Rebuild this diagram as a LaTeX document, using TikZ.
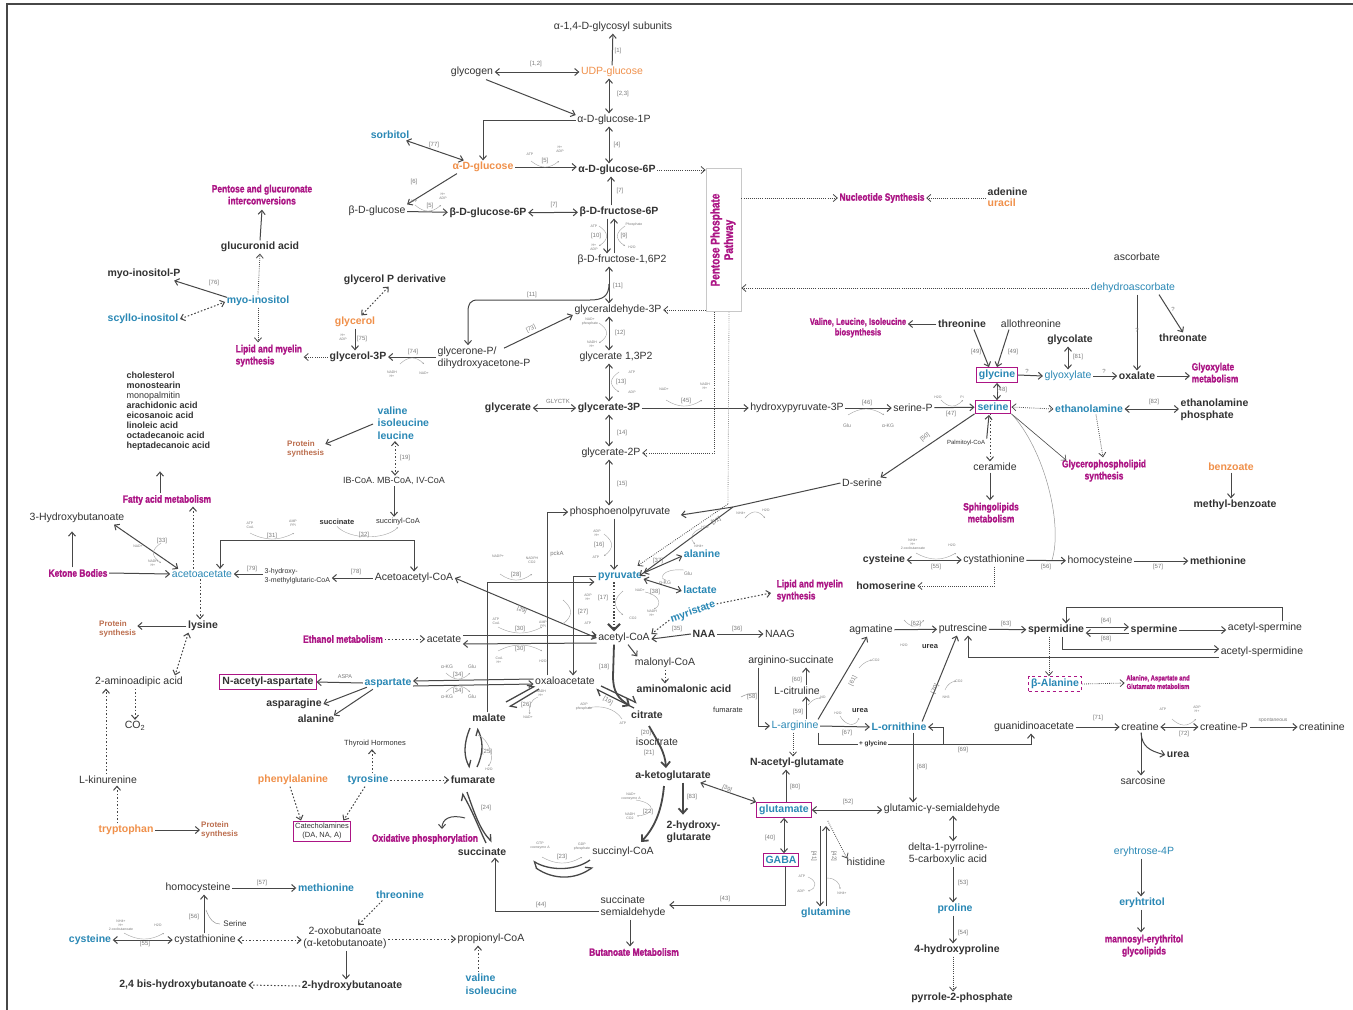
\documentclass[tikz,border=0pt]{standalone}
\usepackage{fontspec}
\usepackage{graphicx}
\setmainfont{Liberation Sans}
\newfontfamily\hvy[BoldFeatures={FakeBold=1.5}]{Liberation Sans}
\usetikzlibrary{arrows.meta,calc}
\definecolor{txt}{HTML}{333333}
\definecolor{lnc}{HTML}{474747}
\definecolor{blc}{HTML}{2A88B5}
\definecolor{orc}{HTML}{F0904A}
\definecolor{mgc}{HTML}{AC1585}
\definecolor{psc}{HTML}{BC6E4E}
\definecolor{grc}{HTML}{7A7A7A}
\definecolor{boxg}{HTML}{C8C8C8}
\newcommand{\mgt}[1]{\scalebox{0.8}[1]{\hvy\bfseries #1}}
\newcommand{\mgcc}[1]{\scalebox{0.8}[1]{\hvy\bfseries\begin{tabular}{@{}c@{}}#1\end{tabular}}}
\newcommand{\mgll}[1]{\scalebox{0.8}[1]{\hvy\bfseries\begin{tabular}{@{}l@{}}#1\end{tabular}}}
\newcommand{\arcup}[3]{\draw[cof] ({#1-#3},{#2-7}) .. controls ({#1-#3*0.3},{#2+1}) and ({#1+#3*0.3},{#2+1}) .. ({#1+#3},{#2-7});}
\newcommand{\arcdn}[3]{\draw[cof] ({#1-#3},{#2+7}) .. controls ({#1-#3*0.3},{#2-1}) and ({#1+#3*0.3},{#2-1}) .. ({#1+#3},{#2+7});}
\newcommand{\arcrt}[3]{\draw[cof] ({#1+9},{#2-#3}) .. controls ({#1-1},{#2-#3*0.3}) and ({#1-1},{#2+#3*0.3}) .. ({#1+9},{#2+#3});}
\newcommand{\arclt}[3]{\draw[cof] ({#1-9},{#2-#3}) .. controls ({#1+1},{#2-#3*0.3}) and ({#1+1},{#2+#3*0.3}) .. ({#1-9},{#2+#3});}
\tikzset{
 base/.style={inner sep=1.5pt, text=txt, font=\fontsize{10.5}{12.5}\selectfont},
 tx/.style={base},
 tb/.style={base, font=\fontsize{10.5}{12.5}\selectfont\bfseries},
 tbl/.style={tb, text=blc},
 tblb/.style={base, text=blc},
 tor/.style={tb, text=orc},
 tmg/.style={inner sep=1.5pt, text=mgc, font=\fontsize{10.5}{12}\selectfont},
 tps/.style={inner sep=1pt, text=psc, font=\fontsize{8}{9.5}\selectfont\bfseries, align=left, anchor=west},
 trn/.style={inner sep=0.5pt, text=grc, font=\fontsize{6}{7}\selectfont},
 tt/.style={inner sep=0pt, text=grc, font=\fontsize{3.5}{4}\selectfont, align=center},
 tsm/.style={base, font=\fontsize{7.5}{9}\selectfont},
 bx/.style={draw=mgc, line width=1pt, inner sep=2.5pt},
 ar/.style={draw=lnc, line width=1pt, -{Straight Barb[length=4pt,width=7pt]}},
 dar/.style={draw=lnc, line width=1pt, {Straight Barb[length=4pt,width=7pt]}-{Straight Barb[length=4pt,width=7pt]}},
 dta/.style={ar, line width=0.8pt, dash pattern=on 0.8pt off 1.3pt},
 ddt/.style={dar, line width=0.8pt, dash pattern=on 0.8pt off 1.3pt},
 dsa/.style={ar, dash pattern=on 1.6pt off 1.9pt},
 dsd/.style={dar, dash pattern=on 1.6pt off 1.9pt},
 tk/.style={draw=lnc, line width=1.8pt, -{Straight Barb[length=5pt,width=9pt]}},
 hp/.style={draw=lnc, line width=1.3pt, -{Straight Barb[harpoon,length=5pt,width=9pt]}},
 cof/.style={draw=grc!70, line width=0.4pt, -{Stealth[length=1.6pt,width=1.6pt]}},
 thn/.style={draw=grc!80, line width=0.5pt},
}
\begin{document}
\begin{tikzpicture}[x=1pt,y=-1pt]
\useasboundingbox (0,0) rectangle (1353,1010);
\fill[white] (0,0) rectangle (1353,1010);
\draw[lnc, line width=1.2pt] (7,1012) -- (7,4) -- (1356,4);

% ---------- helper coordinates
\coordinate (sp) at (609,0);
\coordinate (sp2) at (611,0);
\coordinate (spa) at (607,0);
\coordinate (spb) at (614,0);
\coordinate (x468) at (468,0);
\coordinate (p1) at (714,0);
\coordinate (p2) at (729,0);

% ---------- glycogen / glucose
\node[tx] (glysub) at (613,27) {α-1,4-D-glycosyl subunits};
\node[tx] (glycogen) at (472,72) {glycogen};
\node[tx, text=orc] (udpg) at (612,72) {UDP-glucose};
\node[tx] (g1p) at (614,120) {α-D-glucose-1P};
\node[tbl] (sorbitol) at (390,135) {sorbitol};
\node[tor] (adg) at (483,167) {α-D-glucose};
\node[tb] (ag6p) at (617,170) {α-D-glucose-6P};
\node[tx] (bdg) at (377,211) {β-D-glucose};
\node[tb] (bg6p) at (488,213) {β-D-glucose-6P};
\node[tb] (bf6p) at (619,212) {β-D-fructose-6P};
\node[tx] (f16) at (622,260) {β-D-fructose-1,6P2};
\node[tx] (gap) at (618,310) {glyceraldehyde-3P};
\node[tb] (gpd) at (395,280) {glycerol P derivative};
\node[tor] (glycerol) at (355,322) {glycerol};
\node[tb] (g3p) at (358,357) {glycerol-3P};
\node[tx, align=left, anchor=west] (dhap) at (436,358) {glycerone-P/\\dihydroxyacetone-P};
\node[tx] (g13) at (616,357) {glycerate 1,3P2};
\node[tb] (glycerate) at (508,408) {glycerate};
\node[tb] (g3) at (609,408) {glycerate-3P};
\node[tx] (g2) at (611,453) {glycerate-2P};
\node[tx] (pep) at (620,512) {phosphoenolpyruvate};
\node[tbl] (pyr) at (620,576) {pyruvate};
\node[tx] (acoa) at (624,638) {acetyl-CoA};

% pentose phosphate box
\node[draw=boxg, line width=0.8pt, minimum width=35pt, minimum height=143pt, inner sep=0pt] (ppp) at (723.5,240) {};
\node[rotate=90, text=mgc, font=\fontsize{12.5}{13.5}\selectfont] at (ppp) {\mgcc{Pentose Phosphate\\Pathway}};

% ---------- right top
\node[tmg] (nucl) at (882,198) {\mgt{Nucleotide Synthesis}};
\node[tb, anchor=west] (adenine) at (986,192) {adenine};
\node[tor, anchor=west] (uracil) at (986,203) {uracil};
\node[tx] (ascorbate) at (1137,257) {ascorbate};
\node[tblb] (dha) at (1133,288) {dehydroascorbate};
\node[tb] (threonate) at (1183,338) {threonate};

\node[tmg, font=\fontsize{9.5}{10.5}\selectfont] (vli) at (858,328) {\mgcc{Valine, Leucine, Isoleucine\\biosynthesis}};
\node[tb] (thr) at (962,324) {threonine};
\node[tx] (allothr) at (1031,324) {allothreonine};
\node[tbl, bx] (gly) at (997,375) {glycine};
\node[tbl, bx] (ser) at (993,407) {serine};
\node[tb] (glycolate) at (1070,340) {glycolate};
\node[tblb] (glyox) at (1068,376) {glyoxylate};
\node[tb] (oxalate) at (1137,376) {oxalate};
\node[tmg, anchor=west] (glyoxmet) at (1190,374) {\mgll{Glyoxylate\\metabolism}};
\node[tbl] (ethan) at (1089,409) {ethanolamine};
\node[tb, align=left, anchor=west] (ethp) at (1179,410) {ethanolamine\\phosphate};
\node[tmg] (gpl) at (1104,471) {\mgcc{Glycerophospholipid\\synthesis}};
\node[tor] (benzoate) at (1231,467) {benzoate};
\node[tb] (mbenz) at (1235,505) {methyl-benzoate};

\node[tx] (hp3) at (797,408) {hydroxypyruvate-3P};
\node[tx] (serp) at (913,408) {serine-P};
\node[tx] (dser) at (862,483) {D-serine};
\node[base, font=\fontsize{6}{7}\selectfont] (palm) at (966,443) {Palmitoyl-CoA};
\node[tx] (ceramide) at (995,467) {ceramide};
\node[tmg] (sphingo) at (991,514) {\mgcc{Sphingolipids\\metabolism}};
\node[tb] (cys1) at (884,560) {cysteine};
\node[tx] (cysta1) at (994,560) {cystathionine};
\node[tb] (homoser) at (886,586) {homoserine};
\node[tx] (hcy1) at (1100,561) {homocysteine};
\node[tb] (met1) at (1218,561) {methionine};

% ---------- left top
\node[tmg] (pgi) at (262,196) {\mgcc{Pentose and glucuronate\\interconversions}};
\node[tb] (gluc) at (260,247) {glucuronid acid};
\node[tb] (mip) at (144,274) {myo-inositol-P};
\node[tbl] (myo) at (258,301) {myo-inositol};
\node[tbl] (scyllo) at (143,319) {scyllo-inositol};
\node[tmg, anchor=west] (lipid1) at (234,356) {\mgll{Lipid and myelin\\synthesis}};
\node[tb, align=left, anchor=west, font=\fontsize{9}{10}\selectfont\bfseries] (fa) at (125,411) {cholesterol\\monostearin\\{\mdseries monopalmitin}\\arachidonic acid\\eicosanoic acid\\linoleic acid\\octadecanoic acid\\heptadecanoic acid};
\node[tmg] (fam) at (167,500) {\mgt{Fatty acid metabolism}};
\node[tx] (hb) at (77,518) {3-Hydroxybutanoate};
\node[tmg] (kb) at (78,573) {\mgt{Ketone Bodies}};
\node[tblb] (acac) at (202,574) {acetoacetate};
\node[base, align=left, anchor=west, font=\fontsize{7}{8.5}\selectfont] (hmg) at (263,576) {3-hydroxy-\\3-methylglutaric-CoA};
\node[tx] (acac2) at (414,578) {Acetoacetyl-CoA};
\node[tbl, align=left, anchor=west] (vil) at (376,423) {valine\\isoleucine\\leucine};
\node[tps] (ps1) at (286,449) {Protein\\synthesis};
\node[base, font=\fontsize{9}{10}\selectfont] (ibcoa) at (394,481) {IB-CoA. MB-CoA, IV-CoA};
\node[base, font=\fontsize{7.5}{9}\selectfont\bfseries] (succ2) at (337,522) {succinate};
\node[base, font=\fontsize{7.5}{9}\selectfont] (succoa2) at (398,522) {succinyl-CoA};
\node[tmg] (ethmet) at (343,639) {\mgt{Ethanol metabolism}};
\node[tx] (acetate) at (444,639) {acetate};
\node[tb] (lys) at (203,626) {lysine};
\node[tps] (ps2) at (98,629) {Protein\\synthesis};
\node[tx] (aaa) at (139,682) {2-aminoadipic acid};
\node[tx] (co2) at (135,726) {CO\textsubscript{2}};
\node[tx] (lkyn) at (108,780) {L-kinurenine};
\node[tor] (trp) at (126,830) {tryptophan};
\node[tps] (ps3) at (200,830) {Protein\\synthesis};

% ---------- aspartate / TCA
\node[tbl] (asp) at (388,683) {aspartate};
\node[tb, bx] (naasp) at (268,682) {N-acetyl-aspartate};
\node[tb] (asn) at (294,704) {asparagine};
\node[tb] (ala2) at (316,719) {alanine};
\node[tsm] (thy) at (375,744) {Thyroid Hormones};
\node[tbl] (tyr) at (368,780) {tyrosine};
\node[tor] (phe) at (293,780) {phenylalanine};
\node[bx, base, align=center, font=\fontsize{7.5}{9}\selectfont, inner sep=2pt] (cat) at (322,831) {Catecholamines\\(DA, NA, A)};

\node[tbl] (ala1) at (702,554) {alanine};
\node[tbl] (lac) at (700,590) {lactate};
\node[tbl, rotate=19] (myr) at (693,612) {myristate};
\node[tmg, anchor=west] (lipid2) at (775,591) {\mgll{Lipid and myelin\\synthesis}};
\node[tb] (naa) at (704,634) {NAA};
\node[tx] (naag) at (780,634) {NAAG};
\node[tx] (malcoa) at (665,663) {malonyl-CoA};
\node[tb] (amal) at (684,689) {aminomalonic acid};

\node[tx] (oaa) at (565,681) {oxaloacetate};
\node[tb] (malate) at (489,718) {malate};
\node[tb] (citrate) at (647,715) {citrate};
\node[tx] (isocit) at (657,742) {isocitrate};
\node[tb] (akg) at (673,776) {a-ketoglutarate};
\node[tb, align=left, anchor=west] (hg) at (665,832) {2-hydroxy-\\glutarate};
\node[tx] (succoa) at (623,852) {succinyl-CoA};
\node[tb] (succ) at (482,852) {succinate};
\node[tb] (fum) at (473,780) {fumarate};
\node[tmg] (oxphos) at (425,839) {\mgt{Oxidative phosphorylation}};
\node[tx, align=left, anchor=west] (ssa) at (599,907) {succinate\\semialdehyde};
\node[tmg] (butmet) at (634,952) {\mgt{Butanoate Metabolism}};

% ---------- bottom left
\node[tx] (hcy2) at (198,888) {homocysteine};
\node[tbl] (met2) at (326,888) {methionine};
\node[tbl] (cys2) at (90,940) {cysteine};
\node[tx] (cysta2) at (205,940) {cystathionine};
\node[tx, align=center] (oxob) at (345,938) {2-oxobutanoate\\(α-ketobutanoate)};
\node[tbl] (thr2) at (400,895) {threonine};
\node[tx] (propcoa) at (491,939) {propionyl-CoA};
\node[tbl, align=left, anchor=west] (vi2) at (464,984) {valine\\isoleucine};
\node[tb] (hbut) at (352,986) {2-hydroxybutanoate};
\node[tb] (bishb) at (183,985) {2,4 bis-hydroxybutanoate};

% ---------- glutamate / urea
\node[tbl, bx] (glu) at (784,810) {glutamate};
\node[tbl, bx] (gaba) at (781,860) {GABA};
\node[tb] (nag) at (797,763) {N-acetyl-glutamate};
\node[tbl] (gln) at (826,913) {glutamine};
\node[tx] (his) at (866,862) {histidine};
\node[tx] (gsa) at (942,809) {glutamic-γ-semialdehyde};
\node[tx, align=center] (p5c) at (948,854) {delta-1-pyrroline-\\5-carboxylic acid};
\node[tbl] (pro) at (955,909) {proline};
\node[tb] (hyp) at (957,950) {4-hydroxyproline};
\node[tb] (p2p) at (962,998) {pyrrole-2-phosphate};

\node[tx] (argsuc) at (791,661) {arginino-succinate};
\node[tx] (cit) at (797,691) {L-citruline};
\node[tblb] (arg) at (795,726) {L-arginine};
\node[tbl] (orn) at (899,727) {L-ornithine};
\node[tx] (agm) at (871,630) {agmatine};
\node[tx] (put) at (963,629) {putrescine};
\node[tb] (spd) at (1056,630) {spermidine};
\node[tb] (spm) at (1154,630) {spermine};
\node[tx] (acspm) at (1265,628) {acetyl-spermine};
\node[tx] (acspd) at (1262,652) {acetyl-spermidine};
\node[tbl, draw=mgc, line width=1pt, dashed, inner sep=2.5pt] (bala) at (1055,684) {β-Alanine};
\node[tmg, font=\fontsize{7.3}{8.5}\selectfont] (aagm) at (1158,683) {\mgcc{Alanine, Aspartate and\\Glutamate metabolism}};
\node[tx] (guan) at (1034,727) {guanidinoacetate};
\node[tx] (crt) at (1140,727) {creatine};
\node[tx] (crtp) at (1224,727) {creatine-P};
\node[tx] (crtn) at (1322,727) {creatinine};
\node[tb] (urea3) at (1178,755) {urea};
\node[tx] (sarc) at (1143,781) {sarcosine};
\node[tblb] (e4p) at (1144,852) {eryhtrose-4P};
\node[tbl] (eryt) at (1142,903) {eryhtritol};
\node[tmg] (mel) at (1144,946) {\mgcc{mannosyl-erythritol\\glycolipids}};

% ================= CONNECTORS =================
% glycogen part
\draw[ar] (udpg) -- (glysub);
\draw[dar] (glycogen) -- (udpg);
\draw[dar] (udpg.south -| sp) -- (g1p.north -| sp);
\draw[ar] ($(glycogen.south)+(14,1)$) -- ($(g1p.west)+(0,-5)$);
\draw[ar] (g1p.west) -| (adg.north);
\draw[dar] (sorbitol) -- (adg);
\draw[ar] (adg.east) -- (adg.east -| ag6p.west);
\draw[dar] (g1p.south -| sp) -- (ag6p.north -| sp);
\draw[dta] (ag6p.east) -- (ag6p.east -| ppp.west);
\draw[ar] ($(adg.south west)+(6,0)$) -- (bdg.north east);
\draw[ar] (bdg) -- (bg6p);
\draw[dar] (bg6p) -- (bf6p);
\draw[ar] (bf6p.north -| sp2) -- (ag6p.south -| sp2);
\draw[ar] (bf6p.south -| spa) -- (f16.north -| spa);
\draw[ar] (f16.north -| spb) -- (bf6p.south -| spb);
\draw[dar] (f16.south -| sp) -- (gap.north -| sp);
\coordinate (j11) at (609,284);
\draw[ar] (j11) .. controls (609,296) and (603,300) .. (590,300) -- (478,300) .. controls (470,300) and (468,304) .. (468,312) -- (dhap.north -| x468);
\draw[dta] (ppp.west |- gap.east) -- (gap.east);
\draw[dsd] (gpd) -- (glycerol);
\draw[ar] (glycerol.south) -- (glycerol.south |- g3p.north);
\draw[ar] (dhap.west |- g3p) -- (g3p.east);
\draw[ar] ($(dhap.north west)+(68,3)$) -- ($(gap.west)+(0,5)$);

% glycolysis
\draw[dar] (gap.south -| sp) -- (g13.north -| sp);
\draw[dar] (g13.south -| sp) -- (g3.north -| sp);
\draw[dar] (glycerate) -- (g3);
\draw[ar] (g3) -- (hp3);
\draw[dar] (g3.south -| sp) -- (g2.north -| sp);
\draw[dar] (g2.south -| sp) -- (pep.north -| sp);
\draw[ar] (pep.south -| spb) -- (pyr.north -| spb);
\draw[draw=lnc, line width=2.2pt, dash pattern=on 1.6pt off 1.6pt, -{Straight Barb[length=6pt,width=12pt]}] (pyr.south -| spb) -- (acoa.north -| spb);

% pentose box connections
\draw[dta] (ppp.east |- nucl) -- (nucl.west);
\draw[dta] (adenine.south west |- nucl) -- (nucl.east);
\draw[dta] (dha.west) -- (dha.west -| ppp.east);
\draw[dta] (ppp.south -| p1) |- (g2.east);
\coordinate (p2b) at (728,504);
\draw[thn, line width=0.8pt, dash pattern=on 0.8pt off 1.3pt] (ppp.south -| p2) -- (p2b);
\draw[dta] (p2b) -- ($(pyr.north east)+(-6,-4)$);

% D-serine / [51]
\coordinate (ds) at (733,507);
\draw[lnc, line width=1pt] (dser.west) -- (ds);
\draw[ar] (ds) -- ($(pep.east)+(9,3)$);
\draw[ar] (ds) -- ($(pyr.north east)+(-4,6)$);

% right top connectors
\draw[ar] (dha.south -| oxalate) -- (oxalate.north);
\draw[ar] ($(dha.south)+(26,0)$) -- (threonate.north);
\draw[ar] (thr.west) -- (thr.west -| vli.east);
\draw[ar] ($(thr.south)+(12,0)$) -- ($(gly.north)+(-8,0)$);
\draw[ar] ($(allothr.south)+(-22,0)$) -- ($(gly.north)+(0,0)$);
\draw[dar] (gly.south) -- (ser.north -| gly.south);
\draw[dar] (glycolate.south -| glyox) -- (glyox.north);
\draw[ar] (gly.east) -- (glyox.west);
\draw[ar] (glyox) -- (oxalate);
\draw[ar] (oxalate) -- (glyoxmet.west |- oxalate);
\draw[ddt] (ser.east) -- (ethan.west);
\draw[dar] (ethan.east) -- (ethan.east -| ethp.west);
\draw[dta] ($(ethan.south)+(7,0)$) -- ($(gpl.north)+(-1,0)$);
\draw[ar, line width=0.6pt] (ser.south east) -- ($(gpl.north west)+(6,3)$);
\draw[thn] (ser.south east) .. controls (1045,450) and (1063,525) .. (1052,560);
\draw[ar] (benzoate.south) -- (benzoate.south |- mbenz.north);
\draw[ar] (hp3) -- (serp);
\draw[ar] (serp) -- (ser);
\draw[ar] (ser.south west) -- ($(dser.north east)+(-3,0)$);
\draw[ar] (palm.north east) -- ($(ser.south)+(-4,1)$);
\coordinate (t1) at ($(ser.south)+(-3,0)$);
\draw[dsa] (t1) -- (t1 |- ceramide.north);
\coordinate (t2) at ($(ceramide.south)+(-5,0)$);
\draw[ar] (t2) -- (t2 |- sphingo.north);
\draw[dar] (cys1) -- (cysta1);
\draw[dta] (cysta1.south) |- (homoser.east);
\draw[ar] (cysta1) -- (hcy1);
\draw[ar] (hcy1) -- (met1);

% left top connectors
\draw[ar] (gluc.north) -- (pgi.south);
\draw[dta] (myo.north) -- (gluc.south);
\draw[ar] ($(myo.north west)+(2,3)$) -- ($(mip.south east)+(-8,0)$);
\draw[dsd] (scyllo.east) -- ($(myo.west)+(0,1)$);
\draw[dta] (myo.south) -- (myo.south |- lipid1.north);
\draw[dta] (g3p.west) -- (g3p.west -| lipid1.east);
\draw[ar] ($(fam.north)+(-7,0)$) -- ($(fam.north)+(-7,-22)$);
\draw[ar] ($(kb.north)+(-6,0)$) -- ($(kb.north)+(-6,-36)$);
\draw[ar] (kb.east) -- (acac.west);
\draw[dar] ($(hb.south east)+(-12,0)$) -- ($(acac.north west)+(8,0)$);
\coordinate (t3) at ($(acac.north)+(-9,0)$);
\draw[dsa] (t3) -- (t3 |- fam.south);
\coordinate (t4) at ($(acac.south)+(-2,0)$);
\draw[dsa] (t4) -- (t4 |- lys.north);
\draw[ar] (hmg.west |- acac) -- (acac.east);
\draw[ar] (acac2.west) -- (acac2.west -| hmg.east);
\coordinate (c31) at (220,540);
\coordinate (c32) at (414,540);
\draw[dar] (acac.north -| c31) -- (c31) -- (c32) -- (acac2.north -| c32);
\draw[ar] ($(vil.west)+(-3,1)$) -- ($(ps1.east)+(0,-5)$);
\coordinate (t5) at ($(vil.south west)+(19,0)$);
\draw[dsd] (t5) -- (t5 |- ibcoa.north);
\draw[ar] (ibcoa.south) -- (ibcoa.south |- succoa2.north);
\draw[cof] (succ2.south) .. controls (350,540) and (385,540) .. (succoa2.south);
\draw[dar] (acac2.east) -- (acoa.west);
\draw[dsa] (ethmet.east) -- (acetate.west);
\draw[ar] ($(acetate.east)+(0,-4)$) -- ($(acoa.west)+(0,-3)$);
\draw[ar] ($(acoa.west)+(0,5)$) -- ($(acetate.east)+(0,5)$);
\draw[ar] (lys.west) -- (ps2.east |- lys.west);
\draw[dsd] ($(lys.south west)+(2,0)$) -- ($(aaa.north)+(36,0)$);
\coordinate (t6) at ($(aaa.south)+(-4,0)$);
\draw[dsa] (t6) -- (t6 |- co2.north);
\coordinate (t7) at ($(lkyn.north)+(-2,0)$);
\draw[dsa] (t7) -- (t7 |- aaa.south);
\coordinate (t8) at ($(trp.north)+(-9,0)$);
\draw[dsa] (t8) -- (t8 |- lkyn.south);
\draw[ar] (trp.east) -- (trp.east -| ps3.west);

% pyruvate area
\draw[dar] ($(pyr.east)+(0,-3)$) -- ($(ala1.west)+(0,2)$);
\draw[dar] ($(pyr.east)+(0,3)$) -- ($(lac.west)+(0,1)$);
\draw[dsa] (myr.east) -- ($(lipid2.west)+(-4,2)$);
\draw[dsa] (myr.west) -- ($(acoa.east)+(0,-4)$);
\draw[ar] (naa.west) -- ($(acoa.east)+(0,1)$);
\draw[ar] (naa) -- (naag);
\draw[ar] ($(acoa.south)+(4,0)$) -- ($(malcoa.north west)+(4,0)$);
\draw[dsa] (malcoa.south) -- (malcoa.south |- amal.north);
\coordinate (xpck) at (547,0);
\draw[ar] (oaa.north -| xpck) |- (pep.west);
\coordinate (x27) at (573,0);
\draw[ar] (pyr.west) -| (oaa.north -| x27);
\coordinate (x28) at (487,0);
\draw[ar] (malate.north -| x28) |- ($(pyr.west)+(-2,6)$);
\draw[ar] ($(oaa.west)+(0,-2)$) -- ($(asp.east)+(0,-2)$);
\draw[ar] ($(asp.east)+(0,3)$) -- ($(oaa.west)+(0,3)$);
\draw[ar] (asp.west) -- (naasp.east);
\draw[ar] ($(asp.south west)+(4,-2)$) -- (asn.east);
\draw[ar] ($(asp.south west)+(10,0)$) -- ($(ala2.north east)+(-2,2)$);

% TCA
\draw[tk] (acoa.south -| spb) -- (613,676) .. controls (613,692) and (618,698) .. (630,706);
\draw[hp] (634,708) -- (596,689);
\draw[hp] (601,686) -- (637,703);
\draw[hp] (539,689) -- (509,707);
\draw[hp] (506,702) -- (535,686);
\draw[tk] (649,726) .. controls (658,742) and (665,752) .. (666,768);
\draw[tk] (664,786) .. controls (662,808) and (656,826) .. (641,842);
\coordinate (t9) at ($(akg.south)+(10,0)$);
\draw[tk] (t9) -- ($(t9)+(0,32)$);
\draw[hp] (590,860) .. controls (575,871) and (550,871) .. (533,861);
\draw[hp] (536,868) .. controls (553,880) and (575,880) .. (593,867);
\draw[hp] (467,792) .. controls (474,812) and (480,830) .. (492,842);
\draw[hp] (486,843) .. controls (478,826) and (472,810) .. (462,793);
\draw[hp] (470,728) .. controls (463,745) and (464,757) .. (470,768);
\draw[hp] (477,767) .. controls (484,752) and (483,740) .. (477,728);
\draw[ar] (465,818) .. controls (450,814) and (442,819) .. (442,829);
\draw[dsa] (tyr.east) -- (fum.west);
\coordinate (t10) at ($(tyr.north)+(4,0)$);
\draw[dsa] (t10) -- (t10 |- thy.south);
\draw[dsa] ($(tyr.south)+(-3,0)$) -- ($(cat.north east)+(-8,0)$);
\draw[dsa] ($(phe.south)+(-3,0)$) -- ($(cat.north)+(-21,0)$);
\coordinate (x495) at (495,0);
\draw[ar] ($(ssa.west)+(0,4)$) -| (succ.south -| x495);
\draw[ar] ($(ssa.south west)+(31,0)$) -- ($(butmet.north)+(-4,0)$);
\coordinate (x785) at (785,0);
\draw[ar] (gaba.south -| x785) |- ($(ssa.east)+(2,-2)$);

% bottom left
\draw[ar] (hcy2) -- (met2);
\draw[dar] (cys2) -- (cysta2);
\coordinate (t11) at ($(cysta2.north)+(-1,0)$);
\draw[ar] (t11) -- (t11 |- hcy2.south);
\draw[dsd] (cysta2.east) -- (cysta2.east -| oxob.west);
\draw[dsa] ($(thr2.south west)+(8,0)$) -- ($(oxob.north)+(13,0)$);
\draw[dsa] (oxob.east |- propcoa) -- (propcoa.west);
\coordinate (t12) at ($(vi2.north west)+(14,0)$);
\draw[dsa] (t12) -- (t12 |- propcoa.south);
\coordinate (t13) at ($(oxob.south)+(1,0)$);
\draw[ar] (t13) -- (t13 |- hbut.north);
\draw[dsa] (hbut.west) -- (bishb.east);

% glutamate / proline
\draw[dar] ($(akg.south east)+(-12,0)$) -- (glu.north west);
\coordinate (t14) at ($(glu.north)+(2,0)$);
\draw[ar] (t14) -- (t14 |- nag.south);
\draw[dar] (glu.east) -- (glu.east -| gsa.west);
\draw[dar] (glu.south) -- (glu.south |- gaba.north);
\coordinate (q41) at (820,826);
\coordinate (q42) at (826,826);
\draw[ar] (q41) -- (gln.north -| q41);
\draw[ar] (gln.north -| q42) -- (q42);
\draw[dta] ($(glu.south east)+(16,3)$) -- ($(his.north west)+(2,2)$);
\coordinate (x953) at (953,0);
\draw[dar] (gsa.south -| x953) -- (p5c.north -| x953);
\draw[ar] (p5c.south -| x953) -- (pro.north -| x953);
\draw[ar] (pro.south -| x953) -- (hyp.north -| x953);
\draw[dta] (hyp.south -| x953) -- (p2p.north -| x953);

% urea cycle
\coordinate (x758) at (758,0);
\draw[ar] (argsuc.south -| x758) |- (arg.west);
\coordinate (x806) at (806,0);
\draw[ar] (arg.north -| x806) -- (cit.south -| x806);
\draw[ar] (cit.north -| x806) -- (argsuc.south -| x806);
\draw[ar] ($(arg.north east)+(-2,0)$) -- ($(agm.south)+(-4,0)$);
\draw[ar] (arg.east) -- (orn.west);
\draw[ar] ($(orn.north east)+(-6,0)$) -- ($(put.south)+(-6,0)$);
\draw[ar] (agm) -- (put);
\draw[ar] (put) -- (spd);
\draw[ar] ($(spd.east)+(0,-3)$) -- ($(spm.west)+(0,-3)$);
\draw[ar] ($(spm.west)+(0,3)$) -- ($(spd.east)+(0,3)$);
\draw[ar] (spm) -- (acspm.west |- spm);
\coordinate (c1) at (1282,607);
\coordinate (c2) at (1066,607);
\draw[ar] (acspm.north -| c1) -- (c1) -- (c2) -- (spd.north -| c2);
\coordinate (c3) at (1062,0);
\draw[ar] (spd.south -| c3) |- ($(acspd.west)+(0,-3)$);
\coordinate (x968) at (968,0);
\draw[ar] ($(acspd.west)+(0,5)$) -| (put.south -| x968);
\coordinate (t15) at ($(spd.south)+(-7,0)$);
\draw[dta] (t15) -- (t15 |- bala.north);
\draw[dta] (bala.east) -- (aagm.west);
\coordinate (t16) at ($(arg.south)+(-2,0)$);
\draw[dta] (t16) -- (t16 |- nag.north);
\coordinate (k1) at (818,744);
\coordinate (k2) at (1031,744);
\coordinate (k3) at (943,744);
\draw[ar] (arg.south -| k1) -- (k1) -- (k2) -- (guan.south -| k2);
\draw[ar] (k3) |- (orn.east);
\node[base, fill=white, font=\fontsize{6.5}{7}\selectfont\bfseries, inner sep=1pt] at (873,744) {+ glycine};
\coordinate (x913) at (913,0);
\draw[ar] (orn.south -| x913) -- (gsa.north -| x913);
\draw[ar] (guan) -- (crt);
\draw[dar] (crt) -- (crtp);
\draw[ar] (crtp) -- (crtn);
\coordinate (t17) at ($(crt.south)+(1,0)$);
\draw[ar] (t17) -- (t17 |- sarc.north);
\draw[ar] (t17) .. controls ($(t17)+(1,14)$) and ($(t17)+(8,18)$) .. (urea3.west);
\coordinate (t18) at ($(e4p.south)+(-3,0)$);
\draw[ar] (t18) -- (t18 |- eryt.north);
\coordinate (t19) at ($(eryt.south)+(-1,0)$);
\draw[ar] (t19) -- (t19 |- mel.north);

% ================= REACTION NUMBERS =================
\node[trn] at (618,51) {[1]};
\node[trn] at (536,64) {[1,2]};
\node[trn] at (623,94) {[2,3]};
\node[trn] at (434,145) {[77]};
\node[trn] at (617,145) {[4]};
\node[trn] at (545,161) {[5]};
\node[trn] at (620,191) {[7]};
\node[trn] at (414,182) {[6]};
\node[trn] at (430,206) {[5]};
\node[trn] at (554,205) {[7]};
\node[trn] at (596,236) {[10]};
\node[trn] at (624,236) {[9]};
\node[trn] at (618,286) {[11]};
\node[trn] at (532,295) {[11]};
\node[trn] at (362,339) {[75]};
\node[trn] at (413,352) {[74]};
\node[trn, rotate=27] at (531,329) {[73]};
\node[trn] at (620,333) {[12]};
\node[trn] at (621,382) {[13]};
\node[trn] at (558,401) {GLYCTK};
\node[trn] at (686,401) {[45]};
\node[trn] at (622,433) {[14]};
\node[trn] at (622,484) {[15]};
\node[trn] at (599,545) {[16]};
\node[trn] at (603,598) {[17]};
\node[trn] at (583,612) {[27]};
\node[trn] at (516,575) {[28]};
\node[trn, rotate=-24] at (522,610) {[29]};
\node[trn] at (520,629) {[30]};
\node[trn] at (520,649) {[30]};
\node[trn] at (557,554) {pckA};
\node[trn] at (658,561) {[37]};
\node[trn] at (655,592) {[38]};
\node[trn] at (677,629) {[35]};
\node[trn] at (737,629) {[36]};
\node[trn] at (604,667) {[18]};
\node[trn] at (272,536) {[31]};
\node[trn] at (364,535) {[32]};
\node[trn] at (162,541) {[33]};
\node[trn] at (252,569) {[79]};
\node[trn] at (356,572) {[78]};
\node[trn] at (405,458) {[19]};
\node[trn] at (214,283) {[76]};
\node[trn] at (458,675) {[34]};
\node[trn] at (458,691) {[34]};
\node[trn, font=\fontsize{5.5}{6}\selectfont] at (345,677) {ASPA};
\node[trn] at (526,705) {[26]};
\node[trn, rotate=-30] at (608,701) {[19]};
\node[trn] at (646,733) {[20]};
\node[trn] at (649,753) {[21]};
\node[trn] at (487,752) {[25]};
\node[trn] at (486,808) {[24]};
\node[trn] at (648,812) {[22]};
\node[trn] at (692,797) {[83]};
\node[trn] at (562,857) {[23]};
\node[trn] at (541,905) {[44]};
\node[trn] at (725,899) {[43]};
\node[trn, rotate=-26] at (727,789) {[39]};
\node[trn] at (795,787) {[80]};
\node[trn] at (848,802) {[52]};
\node[trn] at (770,838) {[40]};
\node[trn, rotate=-90] at (814,856) {[41]};
\node[trn, rotate=-90] at (834,856) {[42]};
\node[trn] at (963,883) {[53]};
\node[trn] at (963,933) {[54]};
\node[trn] at (752,697) {[58]};
\node[trn] at (798,712) {[59]};
\node[trn] at (797,680) {[60]};
\node[trn, rotate=63] at (853,681) {[61]};
\node[trn] at (847,733) {[67]};
\node[trn, rotate=66] at (935,689) {[70]};
\node[trn] at (922,767) {[68]};
\node[trn] at (963,750) {[69]};
\node[trn] at (916,624) {[62]};
\node[trn] at (1006,624) {[63]};
\node[trn] at (1106,621) {[64]};
\node[trn] at (1106,639) {[68]};
\node[trn] at (1098,718) {[71]};
\node[trn] at (1184,734) {[72]};
\node[trn, font=\fontsize{5}{6}\selectfont] at (1273,720) {spontaneous};
\node[trn] at (867,403) {[46]};
\node[trn] at (951,414) {[47]};
\node[trn] at (1002,390) {[48]};
\node[trn] at (976,352) {[49]};
\node[trn] at (1013,352) {[49]};
\node[trn, rotate=38] at (925,437) {[50]};
\node[trn, rotate=31] at (716,521) {[51]};
\node[trn] at (1078,357) {[81]};
\node[trn] at (1154,402) {[82]};
\node[trn] at (1027,371) {?};
\node[trn] at (1104,371) {?};
\node[trn] at (1137,330) {?};
\node[trn] at (1173,309) {?};
\node[trn] at (936,567) {[55]};
\node[trn] at (1046,567) {[56]};
\node[trn] at (1158,567) {[57]};
\node[trn] at (262,883) {[57]};
\node[trn] at (194,917) {[56]};
\node[trn] at (145,944) {[55]};

% ================= COFACTORS (tiny) =================
\arcup{545}{168}{14}
\node[tt] at (530,154) {ATP}; \node[tt] at (560,149) {H+\\ADP};
\arcup{428}{212}{13}
\node[tt] at (414,201) {ATP}; \node[tt] at (443,196) {H+\\ADP};
\arclt{608}{236}{10}
\node[tt] at (594,226) {ATP}; \node[tt] at (594,247) {H+\\ADP};
\arcrt{616}{236}{10}
\node[tt] at (634,225) {Phosphate}; \node[tt] at (632,247) {H2O};
\arclt{608}{333}{10}
\node[tt] at (590,322) {NAD+\\phosphate}; \node[tt] at (592,344) {NADH\\H+};
\arcrt{610}{382}{10}
\node[tt] at (632,372) {ATP}; \node[tt] at (632,392) {ADP};
\arcup{684}{407}{18}
\node[tt] at (664,389) {NAD+}; \node[tt] at (705,386) {NADH\\H+};
\arcdn{866}{408}{18}
\node[tt, font=\fontsize{5}{6}\selectfont] at (847,426) {Glu}; \node[tt, font=\fontsize{5}{6}\selectfont] at (888,426) {α-KG};
\arcup{952}{407}{11}
\node[tt] at (938,397) {H2O}; \node[tt] at (962,397) {Pi};
\arclt{613}{545}{11}
\node[tt] at (597,533) {ADP\\H+}; \node[tt] at (596,557) {ATP};
\arcrt{614}{603}{12}
\node[tt] at (633,618) {CO2};
\arclt{572}{612}{12}
\node[tt] at (588,597) {ADP\\H+}; \node[tt] at (588,623) {ATP};
\arcup{516}{581}{16}
\node[tt] at (498,556) {NADP+}; \node[tt] at (532,560) {NADPH\\CO2};
\arcup{520}{634}{22}
\node[tt] at (496,621) {ATP\\CoA}; \node[tt] at (543,624) {AMP\\PPi};
\arcdn{520}{644}{22}
\node[tt] at (499,660) {CoA\\H+}; \node[tt] at (543,661) {H2O};
\arcup{272}{540}{22}
\node[tt] at (250,525) {ATP\\CoA}; \node[tt] at (293,523) {AMP\\PPi};
\arcrt{152}{553}{10}
\node[tt] at (138,546) {NAD+}; \node[tt] at (153,563) {NADH\\H+};
\arcup{458}{680}{12}
\node[tt, font=\fontsize{5}{6}\selectfont] at (447,667) {α-KG}; \node[tt, font=\fontsize{5}{6}\selectfont] at (472,667) {Glu};
\arcdn{458}{685}{12}
\node[tt, font=\fontsize{5}{6}\selectfont] at (447,697) {α-KG}; \node[tt, font=\fontsize{5}{6}\selectfont] at (472,697) {Glu};
\node[tt] at (541,693) {NADH\\H+}; \node[tt] at (528,717) {NAD+};
\draw[cof] (538,697) .. controls (530,700) and (528,708) .. (530,714);
\node[tt] at (584,707) {ADP\\phosphate}; \node[tt] at (623,723) {ATP};
\draw[cof] (622,719) .. controls (615,708) and (600,705) .. (588,708);
\draw[cof] (478,735) .. controls (490,740) and (495,760) .. (488,766);
\node[tt] at (489,769) {H2O};
\node[tt] at (631,797) {NAD+\\coenzyme A}; \node[tt] at (630,816) {NADH\\CO2};
\draw[cof] (636,800) .. controls (656,803) and (656,814) .. (637,816);
\arcup{562}{864}{20}
\node[tt] at (540,846) {GTP\\coenzyme A}; \node[tt] at (582,847) {GDP\\phosphate};
\node[tt, font=\fontsize{5}{6}\selectfont] at (688,574) {Glu}; \node[tt, font=\fontsize{5}{6}\selectfont] at (665,583) {α-KG};
\draw[cof] (684,570) .. controls (660,568) and (660,580) .. (666,580);
\node[tt] at (640,590) {NAD+}; \node[tt] at (652,613) {NADH\\H+};
\draw[cof] (645,592) .. controls (660,595) and (662,605) .. (654,609);
\arcup{936}{560}{20}
\node[tt] at (913,544) {NH4+\\H+\\2-oxobutanoate}; \node[tt] at (952,545) {H2O};
\arcup{144}{940}{20}
\node[tt] at (121,925) {NH4+\\H+\\2-oxobutanoate}; \node[tt] at (158,925) {H2O};
\draw[thn] (206,910) .. controls (210,920) and (214,924) .. (220,924);
\node[base, font=\fontsize{8}{9}\selectfont] at (235,924) {Serine};
\draw[thn] (741,697) .. controls (748,693) and (752,694) .. (757,693);
\node[base, font=\fontsize{7.5}{9}\selectfont] at (728,710) {fumarate};
\arcup{914}{627}{10}
\node[tt] at (904,645) {H2O};
\node[base, font=\fontsize{7.5}{9}\selectfont\bfseries] at (930,647) {urea};
\draw[cof] (840,716) .. controls (845,725) and (855,728) .. (859,718);
\node[tt] at (838,713) {H2O};
\node[base, font=\fontsize{7.5}{9}\selectfont\bfseries] at (860,711) {urea};
\draw[cof] (808,705) .. controls (812,700) and (816,698) .. (821,698);
\node[tt] at (823,697) {NO};
\draw[cof] (859,668) .. controls (864,662) and (868,661) .. (872,660);
\node[tt] at (876,660) {CO2};
\draw[cof] (945,690) .. controls (948,683) and (952,682) .. (956,681);
\node[tt] at (959,681) {CO2}; \node[tt] at (946,697) {NH3};
\draw[cof] (808,877) .. controls (816,880) and (818,888) .. (808,891);
\node[tt] at (802,876) {ATP}; \node[tt] at (801,891) {ADP};
\draw[cof] (827,878) .. controls (836,878) and (840,884) .. (840,889);
\node[tt] at (842,893) {NH4+};
\arcup{1184}{726}{12}
\node[tt] at (1163,709) {ATP}; \node[tt] at (1197,709) {ADP\\H+};
\arcdn{755}{511}{10}
\node[tt] at (741,513) {NH4+}; \node[tt] at (766,510) {H2O};
\draw[cof] (702,528) .. controls (690,532) and (690,540) .. (695,544);
\node[tt] at (705,527) {H2O}; \node[tt] at (699,546) {NH4+};
\arcdn{412}{357}{12}
\node[tt] at (392,374) {NADH\\H+}; \node[tt] at (424,373) {NAD+};
\node[tt] at (343,337) {H+\\ADP};
\end{tikzpicture}
\end{document}
